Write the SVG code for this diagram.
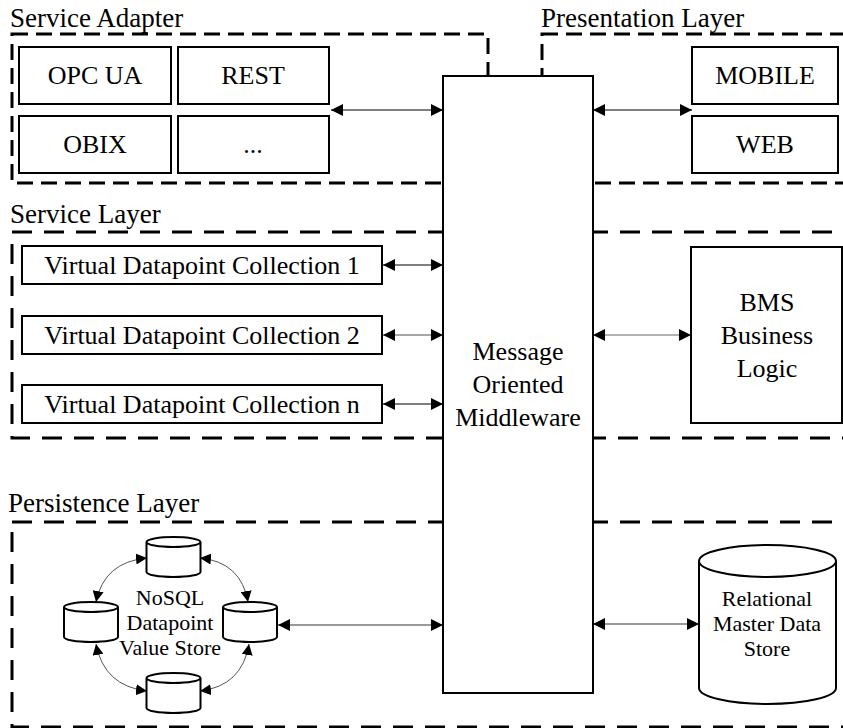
<svg xmlns="http://www.w3.org/2000/svg" xmlns:xlink="http://www.w3.org/1999/xlink" width="843" height="728" viewBox="0 0 843 728" font-family="'Liberation Serif', 'Times New Roman', 'DejaVu Serif', serif">
<style>
  .zone{fill:none;stroke:#000;stroke-width:3;stroke-dasharray:16 8}
  .zone2{fill:none;stroke:#000;stroke-width:3;stroke-dasharray:20 12}
  .box{fill:#fff;stroke:#000;stroke-width:2}
  text{font-family:'Liberation Serif','Times New Roman','DejaVu Serif',serif;fill:#000}
  .t{text-anchor:middle}
  .title{font-size:27px}
  .lbl{font-size:26px}
  .sm{font-size:22px}
  .ar{fill:none;stroke:#000;stroke-width:1.2}
  .arg{fill:none;stroke:#999;stroke-width:2.2}
  .cv{fill:none;stroke:#555;stroke-width:1}
  .cyl{fill:#fff;stroke:#000;stroke-width:2}
</style>
<defs>
  <marker id="ah" viewBox="0 0 12 12" refX="12" refY="6" markerWidth="12" markerHeight="12" orient="auto-start-reverse" markerUnits="userSpaceOnUse">
    <path d="M0,0 L12,6 L0,12 Z" fill="#000"/>
  </marker>
  <marker id="ahs" viewBox="0 0 12 12" refX="12" refY="6" markerWidth="11" markerHeight="11" orient="auto-start-reverse" markerUnits="userSpaceOnUse">
    <path d="M0,0 L12,6 L0,12 Z" fill="#000"/>
  </marker>
  <path id="scyl" d="M-27,-15 A27,5 0 0 1 27,-15 L27,15 A27,5 0 0 1 -27,15 Z M-27,-15 A27,5 0 0 0 27,-15"/>
</defs>

<g id="zones">
  <rect class="zone" x="12" y="34" width="476" height="149"/>
  <rect class="zone" x="542" y="34" width="320" height="149"/>
  <rect class="zone2" x="12" y="232" width="850" height="206"/>
  <rect class="zone2" x="12" y="522" width="850" height="205"/>
  <text class="title" x="10" y="27">Service Adapter</text>
  <text class="title" x="541" y="27">Presentation Layer</text>
  <text class="title" x="10" y="223">Service Layer</text>
  <text class="title" x="8" y="512">Persistence Layer</text>
</g>

<g id="connectors">
  <path class="ar" d="M331,110 L443,110" marker-start="url(#ah)" marker-end="url(#ah)"/>
  <path class="ar" d="M593,110 L692,110" marker-start="url(#ah)" marker-end="url(#ah)"/>
  <path class="ar" d="M383,265 L443,265" marker-start="url(#ah)" marker-end="url(#ah)"/>
  <path class="ar" d="M383,335 L443,335" style="stroke:#888;stroke-width:1.6" marker-start="url(#ah)" marker-end="url(#ah)"/>
  <path class="ar" d="M383,404 L443,404" marker-start="url(#ah)" marker-end="url(#ah)"/>
  <path class="ar" d="M593,335 L691,335" style="stroke:#666" marker-start="url(#ah)" marker-end="url(#ah)"/>
  <path class="arg" d="M278,625 L443,625" marker-start="url(#ah)" marker-end="url(#ah)"/>
  <path class="arg" d="M593,624 L699,624" marker-start="url(#ah)" marker-end="url(#ah)"/>
  <path class="cv" d="M147,558 Q104,562 96,602" marker-start="url(#ahs)" marker-end="url(#ahs)"/>
  <path class="cv" d="M200,558 Q241,562 248,602" marker-start="url(#ahs)" marker-end="url(#ahs)"/>
  <path class="cv" d="M96,644 Q104,686 147,691" marker-start="url(#ahs)" marker-end="url(#ahs)"/>
  <path class="cv" d="M249,644 Q242,686 200,691" marker-start="url(#ahs)" marker-end="url(#ahs)"/>
</g>

<g id="middleware">
  <rect class="box" x="443" y="76" width="150" height="617"/>
  <text class="t lbl" x="518" y="360">Message</text>
  <text class="t lbl" x="518" y="393">Oriented</text>
  <text class="t lbl" x="518" y="426">Middleware</text>
</g>

<g id="opcua"><rect class="box" x="19" y="47" width="152" height="57"/><text class="t lbl" x="95" y="84">OPC UA</text></g>
<g id="rest"><rect class="box" x="178" y="47" width="151" height="57"/><text class="t lbl" x="253" y="84">REST</text></g>
<g id="obix"><rect class="box" x="19" y="116" width="152" height="57"/><text class="t lbl" x="95" y="153">OBIX</text></g>
<g id="more"><rect class="box" x="178" y="116" width="151" height="57"/><text class="t lbl" x="253" y="153">...</text></g>
<g id="mobile"><rect class="box" x="692" y="47" width="146" height="57"/><text class="t lbl" x="765" y="84">MOBILE</text></g>
<g id="web"><rect class="box" x="692" y="116" width="146" height="57"/><text class="t lbl" x="765" y="153">WEB</text></g>

<g id="vdc1"><rect class="box" x="22" y="246" width="360" height="38"/><text class="t lbl" x="202" y="274">Virtual Datapoint Collection 1</text></g>
<g id="vdc2"><rect class="box" x="22" y="316" width="360" height="38"/><text class="t lbl" x="202" y="344">Virtual Datapoint Collection 2</text></g>
<g id="vdcn"><rect class="box" x="22" y="385" width="360" height="38"/><text class="t lbl" x="202" y="413">Virtual Datapoint Collection n</text></g>

<g id="bms">
  <rect class="box" x="691" y="247" width="151" height="176"/>
  <text class="t lbl" x="767" y="311">BMS</text>
  <text class="t lbl" x="767" y="344">Business</text>
  <text class="t lbl" x="767" y="377">Logic</text>
</g>

<g id="nosql">
  <use href="#scyl" xlink:href="#scyl" class="cyl" x="173.5" y="557"/>
  <use href="#scyl" xlink:href="#scyl" class="cyl" x="91" y="622"/>
  <use href="#scyl" xlink:href="#scyl" class="cyl" x="250" y="622"/>
  <use href="#scyl" xlink:href="#scyl" class="cyl" x="173.5" y="693"/>
  <text class="t sm" x="170" y="605">NoSQL</text>
  <text class="t sm" x="170" y="630">Datapoint</text>
  <text class="t sm" x="170" y="655">Value Store</text>
</g>

<g id="relational">
  <path class="cyl" d="M699,561 A68.5,16 0 0 1 836,561 L836,688 A68.5,16 0 0 1 699,688 Z M699,561 A68.5,16 0 0 0 836,561"/>
  <text class="t sm" x="767" y="606">Relational</text>
  <text class="t sm" x="767" y="631">Master Data</text>
  <text class="t sm" x="767" y="656">Store</text>
</g>
</svg>
